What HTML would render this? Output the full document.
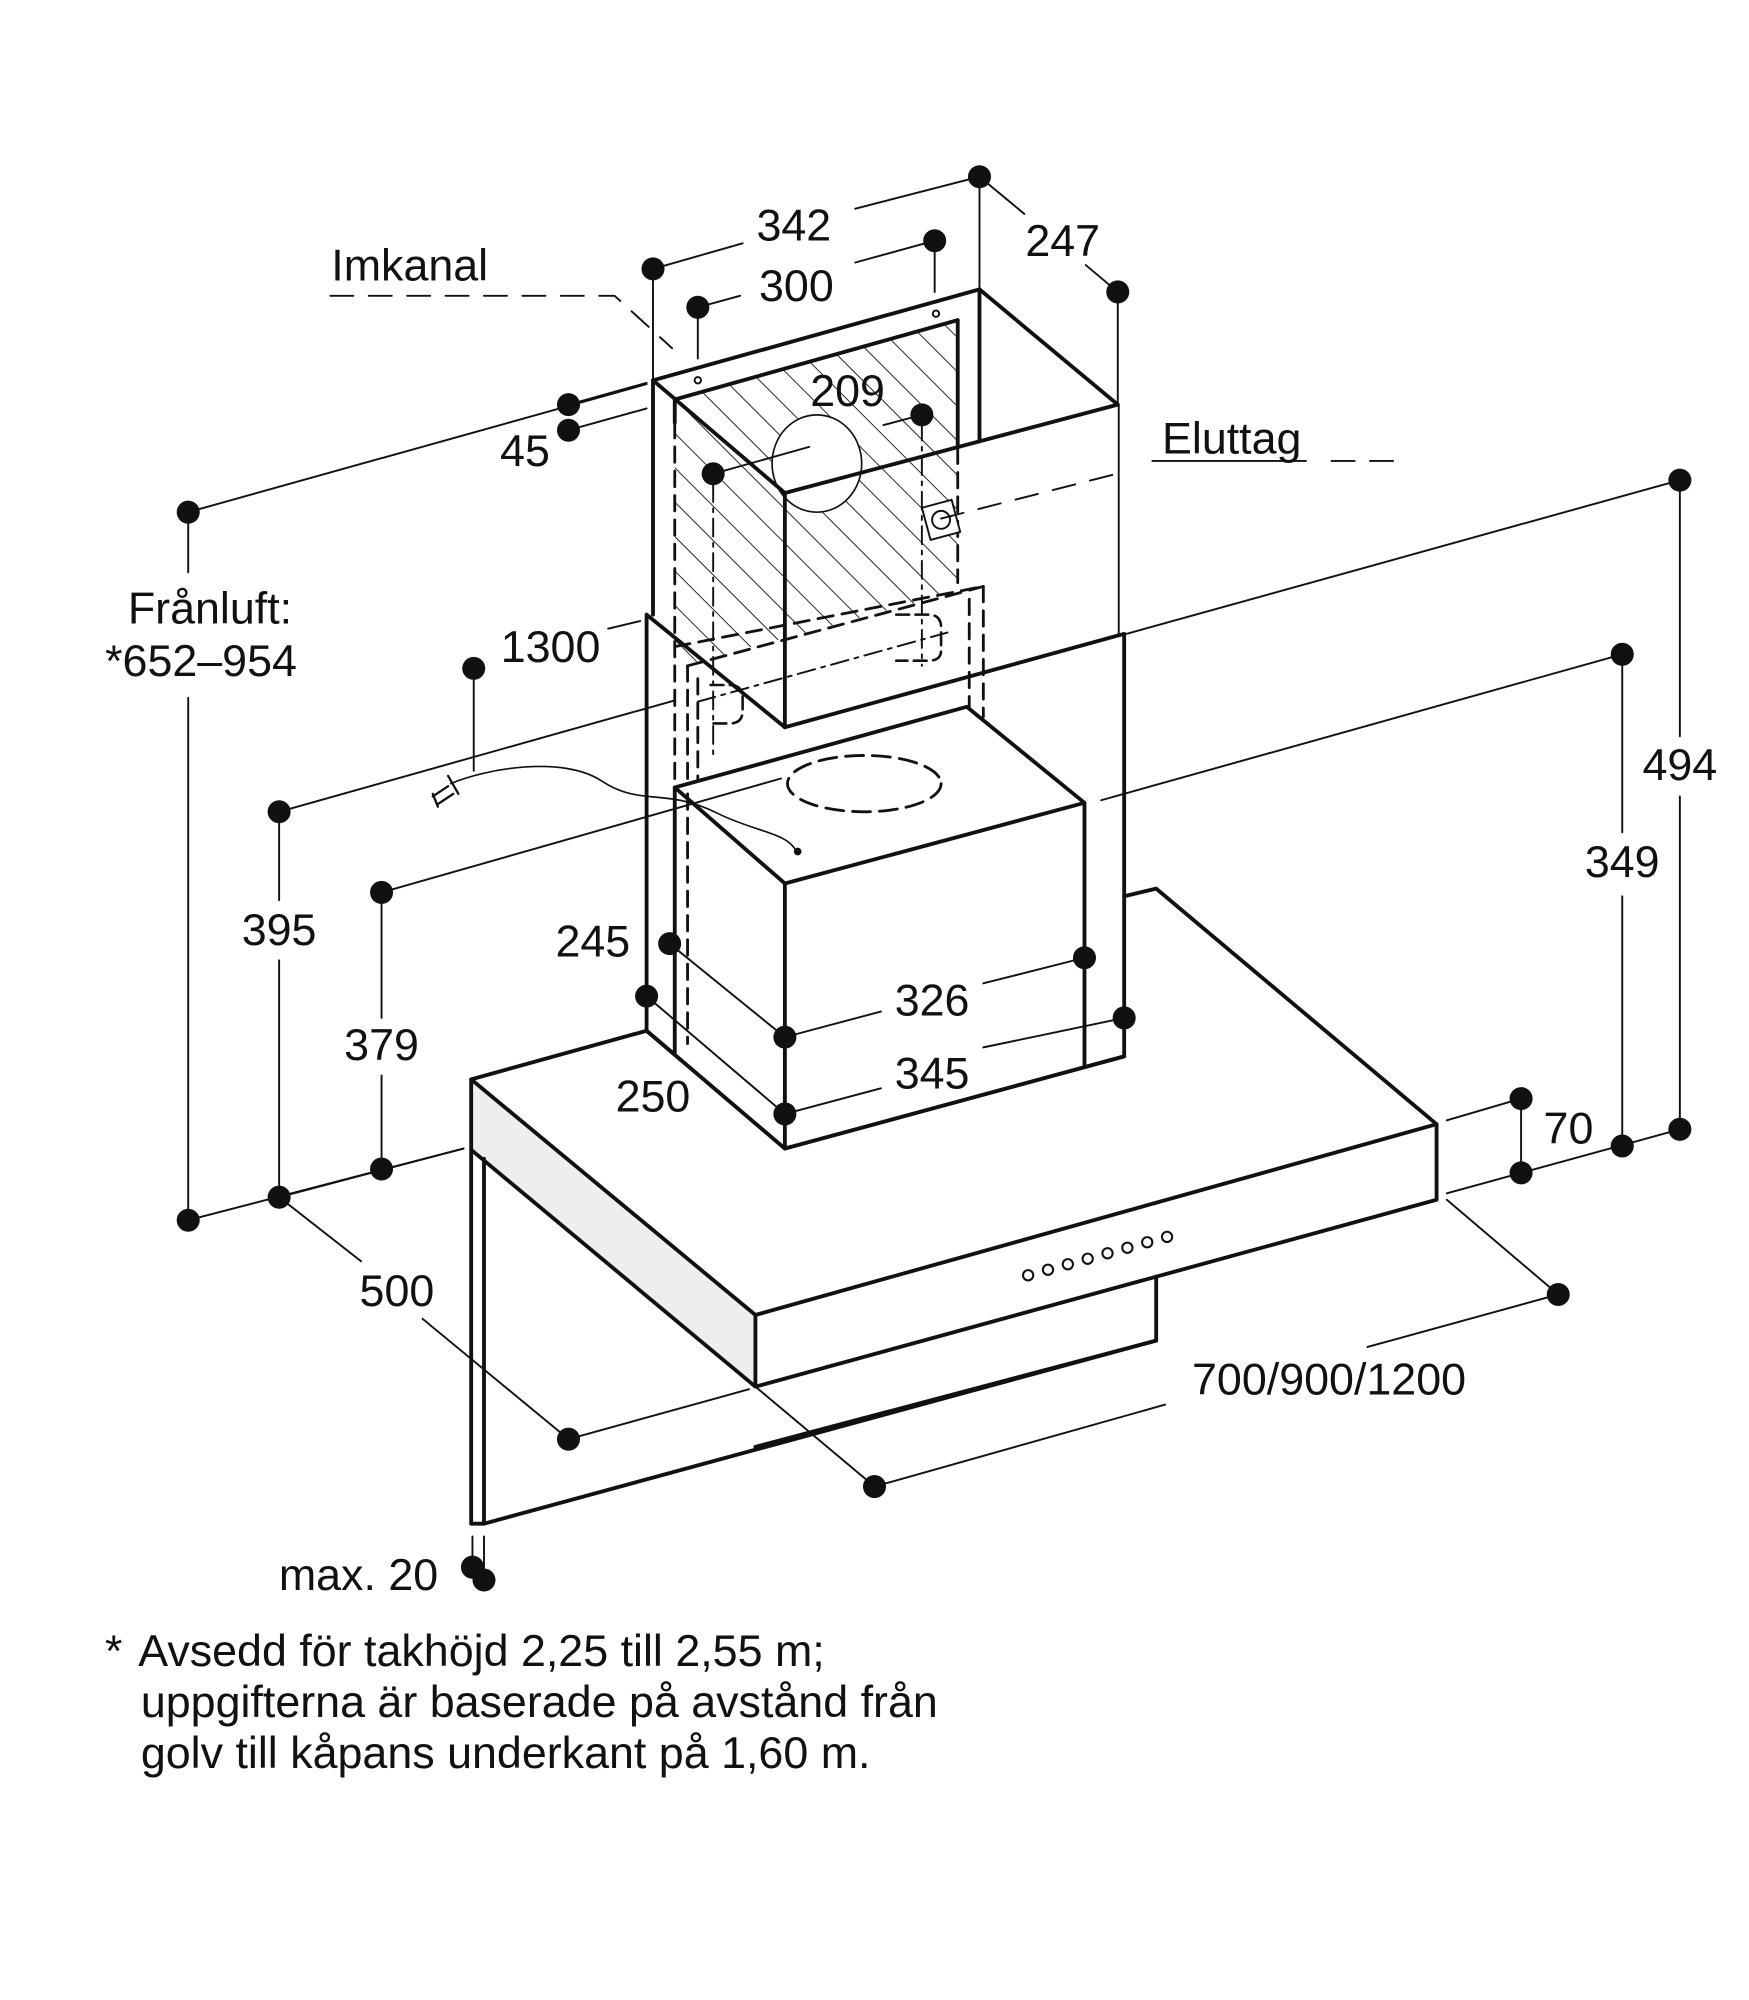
<!DOCTYPE html>
<html><head><meta charset="utf-8"><style>
html,body{margin:0;padding:0;background:#fff;}
svg{display:block;}
text{font-family:"Liberation Sans",sans-serif;fill:#111;}
</style></head><body>
<svg width="1749" height="2000" viewBox="0 0 1366 1562" xmlns="http://www.w3.org/2000/svg">
<defs>
<pattern id="h" patternUnits="userSpaceOnUse" width="19" height="19" patternTransform="rotate(-45)">
<line x1="0" y1="0" x2="0" y2="19" stroke="#111" stroke-width="1.4"/>
</pattern>
<clipPath id="hc"><polygon points="527,312 748,250 748,462 540,518 527,505"/></clipPath>
</defs>
<g fill="none" stroke="#111" stroke-linecap="round" stroke-linejoin="round">
<!-- hatched back wall -->
<polygon points="527,312 748,250 748,462 540,518 527,505" fill="url(#h)" stroke="none" clip-path="url(#hc)"/>
<ellipse cx="638" cy="362" rx="35" ry="38" fill="#fff" stroke-width="1.3"/>
<!-- upper chimney -->
<g stroke-width="3">
<polyline points="510,480 510,297 765,226 873,316 873,495"/>
<line x1="510" y1="297" x2="613" y2="385"/>
<line x1="527" y1="312" x2="748" y2="250"/>
<line x1="765" y1="226" x2="765" y2="345"/>
<line x1="748" y1="250" x2="748" y2="350"/>
<line x1="527" y1="312" x2="527" y2="330"/>
</g>
<polygon points="748,350 873,317 873,495 748,530" fill="#fff" stroke="none"/>
<g stroke-width="3">
<line x1="613" y1="385" x2="873" y2="316"/>
<line x1="613" y1="385" x2="613" y2="568"/>
</g>
<circle cx="545" cy="297" r="2.5" stroke-width="1.5"/>
<circle cx="731" cy="245" r="2.5" stroke-width="1.5"/>
<!-- dashed inner -->
<g stroke-width="2.2" stroke-dasharray="12,7">
<line x1="527" y1="330" x2="527" y2="820"/>
<line x1="748" y1="350" x2="748" y2="455"/>
<line x1="527" y1="505" x2="768" y2="458"/>
<line x1="537" y1="520" x2="768" y2="458"/>
<line x1="768" y1="458" x2="768" y2="560"/>
<line x1="757" y1="468" x2="757" y2="555"/>
<line x1="537" y1="520" x2="537" y2="820"/>
<line x1="545" y1="530" x2="545" y2="818"/>
<line x1="527" y1="820" x2="545" y2="812"/>
</g>
<g stroke-width="1.5" stroke-dasharray="14,5,3,5">
<line x1="545" y1="548" x2="740" y2="494"/>
<line x1="720" y1="330" x2="720" y2="520"/>
<line x1="557" y1="378" x2="557" y2="590"/>
</g>
<path d="M700,480 h25 q10,0 10,10 v18 q0,8 -10,8 h-25 M555,535 h15 q10,0 10,10 v10 q0,10 -10,10 h-15" stroke-width="2" stroke-dasharray="10,5"/>
<!-- eluttag box -->
<rect x="723" y="393" width="24" height="26" transform="rotate(-15 735 406)" stroke-width="1.5" fill="#fff"/>
<circle cx="735" cy="406" r="7" stroke-width="1.5"/>
<!-- lower chimney -->
<polygon points="505,480 613,568 878,495 878,825 613,897 505,805" fill="none" stroke-width="3"/>
<polygon points="527,615 755,552 847,627 847,832 613,897 527,822" fill="#fff" stroke="none"/>
<g stroke-width="3">
<polyline points="527,822 527,615 755,552 847,627 847,832"/>
<line x1="527" y1="615" x2="613" y2="690"/>
<line x1="613" y1="690" x2="847" y2="627"/>
<line x1="613" y1="690" x2="613" y2="897"/>
<polyline points="505,805 613,897 878,825"/>
</g>
<line x1="537" y1="620" x2="537" y2="815" stroke-width="2.2" stroke-dasharray="12,7"/>
<ellipse cx="675" cy="612" rx="60" ry="22" stroke-width="2.2" stroke-dasharray="14,7"/>
<path d="M352,612 C380,600 440,590 470,610 C500,630 520,615 560,635 C590,650 615,650 622,665" stroke-width="1.3"/>
<circle cx="623" cy="665" r="2.5" fill="#111"/>
<path d="M338,622 l12,-8 M342,628 l12,-8 M350,606 l8,14 M338,620 l4,10" stroke-width="1.8"/>
<!-- hood -->
<polyline points="878,700 903,694 1122,878" stroke-width="3"/>
<polygon points="368,843 590,1027 590,1083 368,898" fill="#eee" stroke-width="3"/>
<polyline points="368,843 505,805" stroke-width="3"/>
<polygon points="590,1027 1122,878 1122,937 590,1083" fill="#fff" stroke-width="3"/>
<polyline points="903,997 903,1047 590,1130" stroke-width="3"/>
<polyline points="368,898 368,1190 378,1190 903,1047" stroke-width="3"/>
<line x1="378" y1="905" x2="378" y2="1190" stroke-width="3"/>
<g stroke-width="1.6">
<circle cx="803" cy="996" r="4"/><circle cx="818.5" cy="991.7" r="4"/><circle cx="834" cy="987.4" r="4"/><circle cx="849.5" cy="983.1" r="4"/><circle cx="865" cy="978.8" r="4"/><circle cx="880.5" cy="974.5" r="4"/><circle cx="896" cy="970.2" r="4"/><circle cx="911.5" cy="966" r="4"/>
</g>
<!-- dimension lines -->
<g stroke-width="1.5">
<line x1="510" y1="210" x2="580" y2="190"/><line x1="668" y1="163" x2="765" y2="138"/>
<line x1="510" y1="210" x2="510" y2="297"/><line x1="765" y1="138" x2="765" y2="226"/>
<line x1="545" y1="240" x2="578" y2="231"/><line x1="668" y1="205" x2="730" y2="188"/>
<line x1="545" y1="240" x2="545" y2="280"/><line x1="730" y1="188" x2="730" y2="228"/>
<line x1="765" y1="138" x2="800" y2="167"/><line x1="848" y1="207" x2="873" y2="228"/>
<line x1="873" y1="228" x2="873" y2="316"/>
<line x1="444" y1="316" x2="505" y2="299"/><line x1="444" y1="336" x2="505" y2="319"/>
<line x1="147" y1="400" x2="505" y2="300"/>
<line x1="147" y1="400" x2="147" y2="447"/><line x1="147" y1="545" x2="147" y2="953"/>
<line x1="147" y1="953" x2="362" y2="897"/>
<line x1="557" y1="370" x2="632" y2="349"/><line x1="690" y1="332" x2="720" y2="324"/>
<line x1="1312" y1="375" x2="880" y2="495"/><line x1="1312" y1="375" x2="1312" y2="575"/><line x1="1312" y1="622" x2="1312" y2="882"/>
<line x1="1267" y1="511" x2="860" y2="625"/><line x1="1267" y1="511" x2="1267" y2="650"/><line x1="1267" y1="700" x2="1267" y2="895"/>
<line x1="1188" y1="858" x2="1130" y2="875"/><line x1="1188" y1="858" x2="1188" y2="916"/>
<line x1="1130" y1="932" x2="1312" y2="882"/>
<line x1="370" y1="522" x2="370" y2="602"/><line x1="475" y1="491" x2="500" y2="485"/>
<line x1="218" y1="634" x2="527" y2="547"/><line x1="218" y1="634" x2="218" y2="703"/><line x1="218" y1="750" x2="218" y2="935"/>
<line x1="298" y1="697" x2="610" y2="608"/><line x1="298" y1="697" x2="298" y2="795"/><line x1="298" y1="840" x2="298" y2="913"/>
<line x1="218" y1="935" x2="362" y2="897"/>
<line x1="523" y1="737" x2="613" y2="810"/><line x1="505" y1="778" x2="613" y2="870"/>
<line x1="613" y1="810" x2="688" y2="790"/><line x1="768" y1="768" x2="847" y2="748"/>
<line x1="613" y1="870" x2="688" y2="850"/><line x1="768" y1="818" x2="878" y2="795"/>
<line x1="218" y1="935" x2="282" y2="985"/><line x1="330" y1="1030" x2="444" y2="1124"/>
<line x1="444" y1="1124" x2="585" y2="1085"/>
<line x1="1130" y1="937" x2="1217" y2="1011"/><line x1="1217" y1="1011" x2="1068" y2="1052"/>
<line x1="910" y1="1097" x2="683" y2="1161"/><line x1="590" y1="1083" x2="683" y2="1161"/>
<line x1="369" y1="1200" x2="369" y2="1224"/><line x1="378" y1="1200" x2="378" y2="1234"/>
</g>
<g stroke-width="1.5" stroke-dasharray="18,12">
<polyline points="258,231 480,231 525,272"/>
<line x1="735" y1="405" x2="880" y2="368"/>
<line x1="1040" y1="360" x2="1100" y2="360"/>
</g>
<line x1="900" y1="360" x2="1020" y2="360" stroke-width="1.5"/>
</g>
<g fill="#111">
<circle cx="510" cy="210" r="9"/><circle cx="765" cy="138" r="9"/><circle cx="545" cy="240" r="9"/><circle cx="730" cy="188" r="9"/>
<circle cx="873" cy="228" r="9"/><circle cx="444" cy="316" r="9"/><circle cx="444" cy="336" r="9"/>
<circle cx="147" cy="400" r="9"/><circle cx="147" cy="953" r="9"/><circle cx="557" cy="370" r="9"/><circle cx="720" cy="324" r="9"/>
<circle cx="1312" cy="375" r="9"/><circle cx="1312" cy="882" r="9"/><circle cx="1267" cy="511" r="9"/><circle cx="1267" cy="895" r="9"/>
<circle cx="1188" cy="858" r="9"/><circle cx="1188" cy="916" r="9"/><circle cx="370" cy="522" r="9"/>
<circle cx="218" cy="634" r="9"/><circle cx="218" cy="935" r="9"/><circle cx="298" cy="697" r="9"/><circle cx="298" cy="913" r="9"/>
<circle cx="523" cy="737" r="9"/><circle cx="505" cy="778" r="9"/><circle cx="613" cy="810" r="9"/><circle cx="613" cy="870" r="9"/>
<circle cx="847" cy="748" r="9"/><circle cx="878" cy="795" r="9"/><circle cx="444" cy="1124" r="9"/><circle cx="1217" cy="1011" r="9"/>
<circle cx="683" cy="1161" r="9"/><circle cx="369" cy="1224" r="9"/><circle cx="378" cy="1234" r="9"/>
</g>
<g font-size="35" text-anchor="middle">
<text x="620" y="188">342</text><text x="622" y="235">300</text><text x="830" y="200">247</text>
<text x="662" y="317">209</text><text x="410" y="364">45</text>
<text x="320" y="219">Imkanal</text><text x="962" y="354">Eluttag</text>
<text x="164" y="487">Frånluft:</text><text x="157" y="528">*652–954</text>
<text x="430" y="517">1300</text><text x="1312" y="609">494</text><text x="1267" y="685">349</text>
<text x="218" y="738">395</text><text x="298" y="828">379</text><text x="463" y="747">245</text>
<text x="728" y="793">326</text><text x="728" y="850">345</text><text x="510" y="868">250</text>
<text x="1225" y="893">70</text><text x="310" y="1020">500</text><text x="1038" y="1089">700/900/1200</text>
<text x="280" y="1242">max. 20</text>
</g>
<g font-size="35">
<text x="82" y="1301">*</text>
<text x="108" y="1301">Avsedd för takhöjd 2,25 till 2,55 m;</text>
<text x="110" y="1341">uppgifterna är baserade på avstånd från</text>
<text x="110" y="1381">golv till kåpans underkant på 1,60 m.</text>
</g>
</svg>
</body></html>
